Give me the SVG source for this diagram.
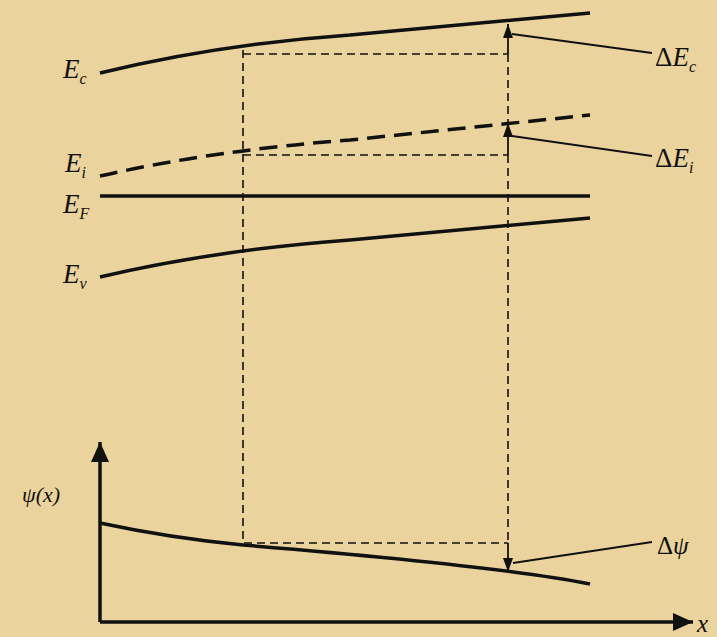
<svg xmlns="http://www.w3.org/2000/svg" width="717" height="637" viewBox="0 0 717 637">
<defs>
<marker id="ah" viewBox="0 0 14 10" refX="14" refY="5" markerWidth="14" markerHeight="10" orient="auto" markerUnits="userSpaceOnUse"><path d="M0,0 L14,5 L0,10 Z" fill="#111"/></marker>
<marker id="axh" viewBox="0 0 20 18" refX="20" refY="9" markerWidth="20" markerHeight="18" orient="auto" markerUnits="userSpaceOnUse"><path d="M0,0 L20,9 L0,18 Z" fill="#111"/></marker>
</defs>
<style>
.band{fill:none;stroke:#111;stroke-width:3.5}
.thin{fill:none;stroke:#111;stroke-width:1.8}
.dash{fill:none;stroke:#111;stroke-width:1.6;stroke-dasharray:8,5}
.lbl{font-family:"Liberation Serif",serif;font-style:italic;fill:#111}
.up{font-style:normal}
</style>
<rect width="717" height="637" fill="#EAD39D"/>
<g id="bands">
<path id="Ec-line" class="band" d="M100,73 Q220,44 350,35 L590,13"/>
<path id="Ei-line" class="band" stroke-dasharray="18,9" d="M100,176 Q215,150 350,140 L590,115"/>
<path id="EF-line" class="band" d="M100,196 L590,196"/>
<path id="Ev-line" class="band" d="M100,277 Q215,250 350,240 L590,218"/>
<path id="psi-line" class="band" d="M100,523 Q170,538 243,545 Q500,566 590,584"/>
</g>
<g id="connectors">
<path class="dash" d="M243,50 L243,543 L508,543"/>
<path class="dash" d="M243,54 L508,54"/>
<path class="dash" d="M243,155 L508,155"/>
<path class="dash" d="M508,155 L508,543"/>
<path class="dash" d="M508,54 L508,124"/>
<path class="thin" stroke-width="2.5" d="M508,54 L508,24" marker-end="url(#ah)"/>
<path class="thin" stroke-width="2.5" d="M508,155 L508,123" marker-end="url(#ah)"/>
<path class="thin" stroke-width="2.5" d="M508,543 L508,572" marker-end="url(#ah)"/>
<path class="thin" d="M512,34 L652,53"/>
<path class="thin" d="M512,136 L652,156"/>
<path class="thin" d="M513,563 L652,542"/>
<path class="band" stroke-width="3" d="M100,622 L100,442" marker-end="url(#axh)"/>
<path class="band" stroke-width="3" d="M100,622 L693,622" marker-end="url(#axh)"/>
</g>
<g id="labels">
<text class="lbl" x="63" y="78" font-size="27">E<tspan font-size="16" dy="6">c</tspan></text>
<text class="lbl" x="65" y="172" font-size="27">E<tspan font-size="16" dy="6">i</tspan></text>
<text class="lbl" x="63" y="213" font-size="27">E<tspan font-size="16" dy="6">F</tspan></text>
<text class="lbl" x="63" y="283" font-size="27">E<tspan font-size="16" dy="6">v</tspan></text>
<text class="lbl" x="655" y="66" font-size="27"><tspan class="up">Δ</tspan>E<tspan font-size="16" dy="6">c</tspan></text>
<text class="lbl" x="655" y="167" font-size="27"><tspan class="up">Δ</tspan>E<tspan font-size="16" dy="6">i</tspan></text>
<text class="lbl" x="657" y="554" font-size="25"><tspan class="up">Δ</tspan>ψ</text>
<text class="lbl" x="22" y="502" font-size="22">ψ(x)</text>
<text class="lbl" x="697" y="632" font-size="25">x</text>
</g>
</svg>
